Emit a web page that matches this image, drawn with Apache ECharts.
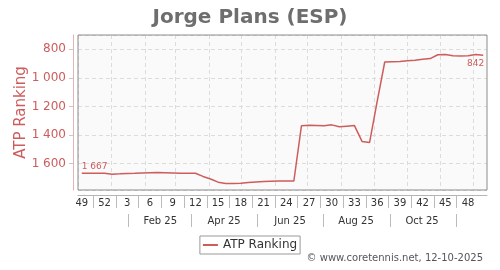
<!DOCTYPE html>
<html>
<head>
<meta charset="utf-8">
<script src="https://cdn.jsdelivr.net/npm/echarts@6/dist/echarts.min.js"></script>
<style>
html,body{margin:0;padding:0;background:#fff;}
#c{width:500px;height:270px;}
</style>
</head>
<body>
<div id="c"></div>
<script>
// ---- data ----
const weekLabels = [49,50,51,52,1,2,3,4,5,6,7,8,9,10,11,12,13,14,15,16,17,18,19,20,21,22,23,24,25,26,27,28,29,30,31,32,33,34,35,36,37,38,39,40,41,42,43,44,45,46,47,48,49,50];
const ranks = [1667,1667,1668,1668,1674,1672,1669,1668,1666,1664,1662,1664,1666,1668,1668,1668,
  1690,1708,1730,1739,1740,1738,1733,1729,1726,1724,1722,1722,1722,
  1336,1332,1334,1336,1329,1342,1338,1334,1445,1452,1165,
  889,887,885,880,877,870,865,838,837,845,847,845,837,842];
const monthNames = ['Jan','Feb','Mar','Apr','May','Jun','Jul','Aug','Sep','Oct','Nov','Dec'];
const labelMonths = [1,3,5,7,9];      // Feb, Apr, Jun, Aug, Oct (label rows)
const sepMonths = [0,2,4,6,8,10];     // separators mid Jan, Mar, May, ...
const seriesName = 'ATP Ranking';
const titleText = 'Jorge Plans (ESP)';
const footerText = '\u00a9 www.coretennis.net, 12-10-2025';

// daily calendar scaffold for the date axes (Dec 1 2024 .. Dec 15 2025)
const dayCats = [];
for (let j = 0; j <= 378; j++) {
  const d = new Date(Date.UTC(2024, 11, 1 + j));
  dayCats.push(d.toISOString().slice(0, 10));
}
const parts = v => { const p = v.split('-'); return {y:+p[0], m:+p[1]-1, d:+p[2]}; };

const red = '#cd5c5c';
const fmtNum = v => v >= 1000 ? Math.floor(v/1000) + ' ' + String(v % 1000).padStart(3, '0') : String(v);

const seriesData = ranks.map((v, i) => {
  if (i === 0) return {value: v, label: {show: true, position: [0, -2], align: 'left', verticalAlign: 'bottom'}};
  if (i === ranks.length - 1) return {value: v, label: {show: true, position: [1, 4], align: 'right', verticalAlign: 'top'}};
  return v;
});

const chart = echarts.init(document.getElementById('c'), null, {renderer: 'canvas'});
chart.setOption({
  animation: false,
  textStyle: {fontFamily: 'DejaVu Sans'},
  title: [
    {text: titleText, left: 'center', top: 3,
     textStyle: {fontSize: 20, fontWeight: 'bold', color: '#6e6e6e', fontFamily: 'DejaVu Sans'}},
    {text: footerText, right: 12, bottom: 2,
     textStyle: {fontSize: 10, fontWeight: 'normal', color: '#555', fontFamily: 'DejaVu Sans'}}
  ],
  legend: {
    data: [seriesName], left: 'center', top: 236,
    borderColor: '#999', borderWidth: 1, borderRadius: 0, padding: [3, 3, 3, 3],
    icon: 'rect', itemWidth: 15, itemHeight: 2,
    textStyle: {fontSize: 12, color: '#333', fontFamily: 'DejaVu Sans'}
  },
  grid: [
    {left: 78, right: 13, top: 35, bottom: 80, show: true, backgroundColor: '#fafafa', borderWidth: 0, z: 0},
    {left: 78, right: 13, top: 35, bottom: 80, show: true, backgroundColor: 'transparent', borderColor: '#8c8c8c', borderWidth: 1, z: 10}
  ],
  xAxis: [
    { // week numbers
      type: 'category', gridIndex: 0, position: 'bottom', offset: 5, data: weekLabels, boundaryGap: true,
      axisLine: {show: true, lineStyle: {color: '#b4b4b4'}},
      axisTick: {show: false},
      splitLine: {show: false},
      axisLabel: {interval: (i) => i % 3 === 0, margin: 3, fontSize: 10, color: '#333', fontFamily: 'DejaVu Sans'}
    },
    { // week separators + monthly gridlines
      type: 'category', gridIndex: 0, position: 'bottom', offset: 5, data: dayCats, boundaryGap: false,
      axisLine: {show: false},
      axisTick: {show: true, interval: (j) => j % 21 === 14 && j <= 350, length: 13, lineStyle: {color: '#bbb'}},
      axisLabel: {show: false},
      splitLine: {show: true, interval: (j, v) => parts(v).d === 1, lineStyle: {color: '#dcdcdc', type: [4, 3]}}
    },
    { // month row
      type: 'category', gridIndex: 0, position: 'bottom', offset: 24, data: dayCats, boundaryGap: false,
      axisLine: {show: false},
      axisTick: {show: true, interval: (j, v) => { const p = parts(v); return p.d === 16 && sepMonths.includes(p.m) && p.y === 2025; }, length: 13, lineStyle: {color: '#bbb'}},
      axisLabel: {show: true, interval: (j, v) => { const p = parts(v); return p.d === 15 && labelMonths.includes(p.m) && p.y === 2025; },
        formatter: (v) => { const p = parts(v); return monthNames[p.m] + ' ' + String(p.y).slice(2); },
        margin: 2, fontSize: 10, color: '#333', fontFamily: 'DejaVu Sans'},
      splitLine: {show: false}
    }
  ],
  yAxis: [{
    type: 'value', gridIndex: 0, inverse: true, min: 700, max: 1785, splitNumber: 5, offset: 5,
    name: seriesName, nameLocation: 'middle', nameGap: 44, nameMoveOverlap: false,
    nameTextStyle: {fontSize: 15, color: red, fontFamily: 'DejaVu Sans'},
    axisLine: {show: true, lineStyle: {color: '#e2b4b4'}},
    axisTick: {show: true, length: 4, lineStyle: {color: '#c8c8c8'}},
    axisLabel: {showMinLabel: false, showMaxLabel: false, margin: 7, fontSize: 12, color: red, fontFamily: 'DejaVu Sans', formatter: fmtNum},
    splitLine: {show: true, lineStyle: {color: '#dcdcdc', type: [4, 3]}}
  }],
  series: [{
    name: seriesName, type: 'line', xAxisIndex: 0, yAxisIndex: 0,
    data: seriesData,
    showSymbol: true, symbol: 'circle', symbolSize: 0,
    lineStyle: {color: red, width: 1.5},
    itemStyle: {color: red},
    label: {show: false, fontSize: 9, color: red, fontFamily: 'DejaVu Sans', formatter: (p) => fmtNum(p.value)},
    emphasis: {disabled: true},
    z: 3
  }]
});
</script>
</body>
</html>
